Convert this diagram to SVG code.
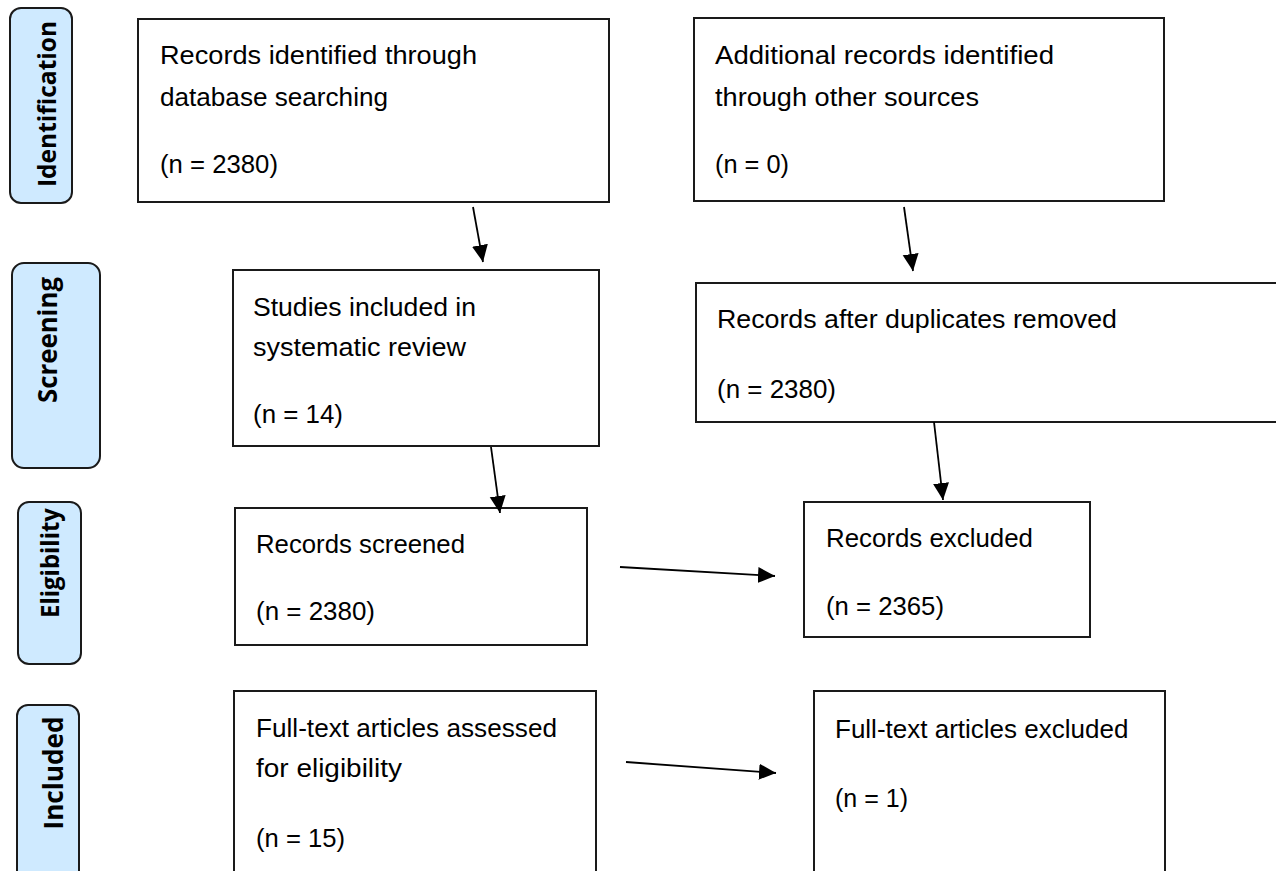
<svg xmlns="http://www.w3.org/2000/svg" width="1276" height="871" viewBox="0 0 1276 871">
<style>
.bg{fill:#ffffff}
.box{fill:#ffffff;stroke:#1a1a1a;stroke-width:2}
.lab{fill:#cfeaff;stroke:#1a1a1a;stroke-width:2}
.t{font-family:"Liberation Sans",Arial,sans-serif;font-size:26px;fill:#000}
.lt{font-family:"Open Sans","Liberation Sans",sans-serif;font-weight:bold;font-size:25px;fill:#000;text-anchor:middle}
.conn line{stroke:#000;stroke-width:1.8;fill:none}
</style>
<defs>
<marker id="ah" markerUnits="userSpaceOnUse" markerWidth="18" markerHeight="18" viewBox="0 0 18 18" refX="17" refY="9" orient="auto">
<path d="M0,1 L17,9 L0,17 Z" fill="#000"/>
</marker>
</defs>
<rect class="bg" x="0" y="0" width="1276" height="871"/>

<g id="label-identification">
<rect class="lab" x="10" y="8" width="62" height="195" rx="11"/>
<text class="lt" transform="translate(56,104) rotate(-90)" textLength="166" lengthAdjust="spacingAndGlyphs">Identification</text>
</g>
<g id="label-screening">
<rect class="lab" x="12" y="263" width="88" height="205" rx="12"/>
<text class="lt" style="font-size:27px" transform="translate(57,340) rotate(-90)" textLength="126" lengthAdjust="spacingAndGlyphs">Screening</text>
</g>
<g id="label-eligibility">
<rect class="lab" x="18" y="502" width="63" height="162" rx="11"/>
<text class="lt" transform="translate(59,563) rotate(-90)" textLength="110" lengthAdjust="spacingAndGlyphs">Eligibility</text>
</g>
<g id="label-included">
<rect class="lab" x="17" y="705" width="62" height="190" rx="11"/>
<text class="lt" style="font-size:26px" transform="translate(63,773) rotate(-90)" textLength="113" lengthAdjust="spacingAndGlyphs">Included</text>
</g>

<g id="node-db">
<rect class="box" x="138" y="19" width="471" height="183"/>
<text class="t" x="160" y="64" textLength="317" lengthAdjust="spacingAndGlyphs">Records identified through</text>
<text class="t" x="160" y="106" textLength="228" lengthAdjust="spacingAndGlyphs">database searching</text>
<text class="t" x="160" y="173" textLength="118" lengthAdjust="spacingAndGlyphs">(n = 2380)</text>
</g>
<g id="node-other">
<rect class="box" x="694" y="18" width="470" height="183"/>
<text class="t" x="715" y="64" textLength="339" lengthAdjust="spacingAndGlyphs">Additional records identified</text>
<text class="t" x="715" y="106" textLength="264" lengthAdjust="spacingAndGlyphs">through other sources</text>
<text class="t" x="715" y="173" textLength="74" lengthAdjust="spacingAndGlyphs">(n = 0)</text>
</g>
<g id="node-studies">
<rect class="box" x="233" y="270" width="366" height="176"/>
<text class="t" x="253" y="316" textLength="223" lengthAdjust="spacingAndGlyphs">Studies included in</text>
<text class="t" x="253" y="356" textLength="213" lengthAdjust="spacingAndGlyphs">systematic review</text>
<text class="t" x="253" y="423" textLength="90" lengthAdjust="spacingAndGlyphs">(n = 14)</text>
</g>
<g id="node-dedup">
<rect class="box" x="696" y="283" width="620" height="139"/>
<text class="t" x="717" y="328" textLength="400" lengthAdjust="spacingAndGlyphs">Records after duplicates removed</text>
<text class="t" x="717" y="398" textLength="119" lengthAdjust="spacingAndGlyphs">(n = 2380)</text>
</g>
<g id="node-screened">
<rect class="box" x="235" y="508" width="352" height="137"/>
<text class="t" x="256" y="553" textLength="209" lengthAdjust="spacingAndGlyphs">Records screened</text>
<text class="t" x="256" y="620" textLength="119" lengthAdjust="spacingAndGlyphs">(n = 2380)</text>
</g>
<g id="node-excluded">
<rect class="box" x="804" y="502" width="286" height="135"/>
<text class="t" x="826" y="547" textLength="207" lengthAdjust="spacingAndGlyphs">Records excluded</text>
<text class="t" x="826" y="615" textLength="118" lengthAdjust="spacingAndGlyphs">(n = 2365)</text>
</g>
<g id="node-fulltext">
<rect class="box" x="234" y="691" width="362" height="220"/>
<text class="t" x="256" y="737" textLength="301" lengthAdjust="spacingAndGlyphs">Full-text articles assessed</text>
<text class="t" x="256" y="777" textLength="146" lengthAdjust="spacingAndGlyphs">for eligibility</text>
<text class="t" x="256" y="847" textLength="89" lengthAdjust="spacingAndGlyphs">(n = 15)</text>
</g>
<g id="node-ft-excluded">
<rect class="box" x="814" y="691" width="351" height="220"/>
<text class="t" x="835" y="738">Full-text articles excluded</text>
<text class="t" x="835" y="807" textLength="73" lengthAdjust="spacingAndGlyphs">(n = 1)</text>
</g>

<g id="connectors" class="conn">
<line x1="473" y1="207" x2="483" y2="262" marker-end="url(#ah)"/>
<line x1="904" y1="207" x2="913" y2="271" marker-end="url(#ah)"/>
<line x1="491" y1="447" x2="500" y2="513" marker-end="url(#ah)"/>
<line x1="934" y1="422" x2="943" y2="500" marker-end="url(#ah)"/>
<line x1="620" y1="567" x2="775" y2="576" marker-end="url(#ah)"/>
<line x1="626" y1="762" x2="776" y2="773" marker-end="url(#ah)"/>
</g>
</svg>
